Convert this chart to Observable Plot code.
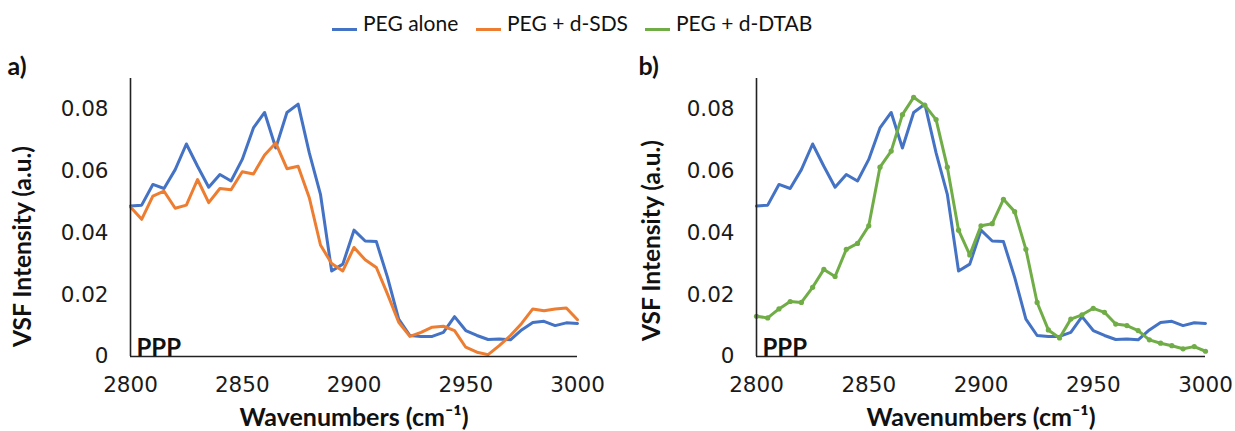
<!DOCTYPE html>
<html><head><meta charset="utf-8">
<script src="https://cdn.jsdelivr.net/npm/d3@7"></script>
<script src="https://cdn.jsdelivr.net/npm/@observablehq/plot@0.6"></script>
<style>
body{margin:0;background:#fff;}
#wrap{position:relative;width:1235px;height:431px;overflow:hidden;background:#fff;}
#legend{position:absolute;top:0;left:0;width:1235px;height:40px;font-family:Lato,"DejaVu Sans",sans-serif;font-size:21px;color:#111;}
.item{position:absolute;top:10px;display:flex;align-items:baseline;white-space:nowrap;}
.sw{display:inline-block;width:25px;height:3px;margin-right:6px;}
#pa{position:absolute;left:0;top:40px;}
#pb{position:absolute;left:617px;top:40px;}
</style>
</head><body>
<div id="wrap">
  <div id="legend"></div>
  <div id="pa"></div>
  <div id="pb"></div>
</div>
<script>
const wavenumbers = [2800,2805,2810,2815,2820,2825,2830,2835,2840,2845,2850,2855,2860,2865,2870,2875,2880,2885,2890,2895,2900,2905,2910,2915,2920,2925,2930,2935,2940,2945,2950,2955,2960,2965,2970,2975,2980,2985,2990,2995,3000];
const pegAlone = [0.0487,0.0490,0.0557,0.0544,0.0605,0.0688,0.0616,0.0548,0.0589,0.0568,0.0638,0.0740,0.0790,0.0675,0.0790,0.0817,0.0659,0.0525,0.0277,0.0299,0.0409,0.0374,0.0372,0.0256,0.0121,0.0068,0.0065,0.0065,0.0078,0.0129,0.0084,0.0068,0.0055,0.0057,0.0054,0.0086,0.0110,0.0114,0.0100,0.0109,0.0107];
const pegSDS = [0.0484,0.0444,0.0519,0.0535,0.0480,0.0490,0.0573,0.0498,0.0544,0.0540,0.0598,0.0591,0.0652,0.0691,0.0608,0.0616,0.0514,0.0361,0.0301,0.0277,0.0353,0.0313,0.0288,0.0202,0.0111,0.0065,0.0078,0.0095,0.0098,0.0084,0.0030,0.0014,0.0006,0.0035,0.0068,0.0107,0.0154,0.0148,0.0154,0.0157,0.0119];
const pegDTAB = [0.0130,0.0125,0.0154,0.0178,0.0175,0.0224,0.0282,0.0259,0.0347,0.0366,0.0423,0.0613,0.0665,0.0783,0.0839,0.0813,0.0767,0.0613,0.0409,0.0329,0.0423,0.0430,0.0509,0.0469,0.0347,0.0175,0.0086,0.0060,0.0121,0.0135,0.0156,0.0143,0.0105,0.0100,0.0084,0.0054,0.0043,0.0035,0.0025,0.0032,0.0017];
const seriesNames = ["PEG alone","PEG + d-SDS","PEG + d-DTAB"];
const seriesColors = ["#4472C4","#ED7D31","#70AD47"];
const xTicks = [2800,2850,2900,2950,3000];
const xTickLabels = ["2800","2850","2900","2950","3000"];
const yTicks = [0,0.02,0.04,0.06,0.08];
const yTickLabels = ["0","0.02","0.04","0.06","0.08"];
const xLabel = "Wavenumbers (cm\u207B\u00B9)";
const yLabel = "VSF Intensity (a.u.)";
const panelLetters = ["a)","b)"];
const polLabel = "PPP";

const toRows = vals => wavenumbers.map((w,i)=>({w, v: vals[i]}));

// legend
const legendLefts = [332,476,645];
const legend = document.getElementById("legend");
seriesNames.forEach((n,i)=>{
  const it = document.createElement("div");
  it.className="item"; it.style.left = legendLefts[i]+"px";
  const sw = document.createElement("span"); sw.className="sw"; sw.style.background=seriesColors[i];
  const tx = document.createElement("span"); tx.textContent = n;
  it.appendChild(sw); it.appendChild(tx); legend.appendChild(it);
});

const boldFont = "Lato, 'DejaVu Sans', sans-serif";
const tickFont = "'DejaVu Sans', Verdana, sans-serif";

function panel({width, marginLeft, marginRight, letter, letterDx, ylabDx, ylabDy, series}) {
  const lineMarks = [];
  series.forEach(s=>{
    lineMarks.push(Plot.line(toRows(s.vals), {x:"w", y:"v", stroke:s.color, strokeWidth:3, strokeLinejoin:"round"}));
    if (s.dots) lineMarks.push(Plot.dot(toRows(s.vals), {x:"w", y:"v", r:2.6, fill:s.color}));
  });
  return Plot.plot({
    width, height:391, marginLeft, marginRight, marginTop:38, marginBottom:75,
    x:{domain:[2800,3000]},
    y:{domain:[0,0.09]},
    style:{fontFamily:tickFont, fontSize:"21px", color:"#1a1a1a", background:"white", overflow:"visible"},
    marks:[
      Plot.axisX(xTicks, {tickSize:0, tickPadding:20, label:null, fontSize:21.5, fontFamily:tickFont, tickFormat:(d)=>xTickLabels[xTicks.indexOf(d)]}),
      Plot.axisY(yTicks, {tickSize:0, tickPadding:22, label:null, fontSize:21.5, fontFamily:tickFont, tickFormat:(d)=>yTickLabels[yTicks.indexOf(d)]}),
      ...lineMarks,
      Plot.ruleX([2800], {stroke:"#222", strokeWidth:1.6}),
      Plot.ruleY([0], {stroke:"#222", strokeWidth:1.6}),
      Plot.text([letter], {text:d=>d, frameAnchor:"top-left", lineAnchor:"top", textAnchor:"start", dx:letterDx, dy:-21, fontSize:25, fontWeight:"bold", fontFamily:boldFont, fill:"#111"}),
      Plot.text([polLabel], {text:d=>d, frameAnchor:"bottom-left", lineAnchor:"bottom", textAnchor:"start", dx:6, dy:-1, fontSize:24, fontWeight:"bold", fontFamily:boldFont, fill:"#111"}),
      Plot.text([yLabel], {text:d=>d, frameAnchor:"left", rotate:-90, textAnchor:"middle", lineAnchor:"middle", dx:ylabDx, dy:ylabDy, fontSize:24.5, fontWeight:"bold", fontFamily:boldFont, fill:"#111"}),
      Plot.text([xLabel], {text:d=>d, frameAnchor:"bottom", textAnchor:"middle", lineAnchor:"middle", dy:61, fontSize:25, fontWeight:"bold", fontFamily:boldFont, fill:"#111"})
    ]
  });
}

document.getElementById("pa").appendChild(panel({
  width:617, marginLeft:130, marginRight:40, letter:panelLetters[0], letterDx:-123, ylabDx:-107, ylabDy:29,
  series:[{vals:pegAlone,color:seriesColors[0]},{vals:pegSDS,color:seriesColors[1]}]
}));
document.getElementById("pb").appendChild(panel({
  width:618, marginLeft:139, marginRight:30, letter:panelLetters[1], letterDx:-118, ylabDx:-104, ylabDy:23,
  series:[{vals:pegAlone,color:seriesColors[0]},{vals:pegDTAB,color:seriesColors[2],dots:true}]
}));
</script>
</body></html>
